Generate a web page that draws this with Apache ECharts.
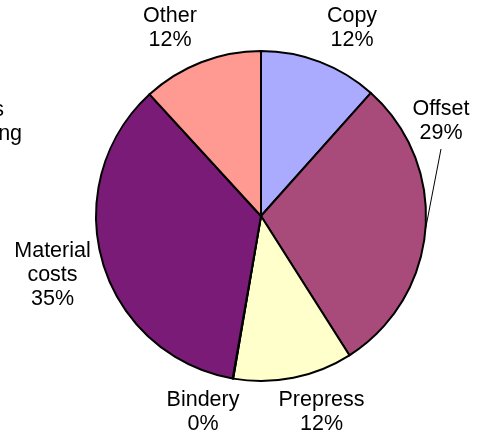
<!DOCTYPE html>
<html>
<head>
<meta charset="utf-8">
<script src="https://cdn.jsdelivr.net/npm/echarts@6/dist/echarts.min.js"></script>
<style>
html,body{margin:0;padding:0;background:#fff;}
#c{width:477px;height:441px;}
</style>
</head>
<body>
<div id="c"></div>
<script>
// ---- data ----
const categories = ['Copy', 'Offset', 'Prepress', 'Bindery', 'Material costs', 'Fees Shipping', 'Other'];
const labelNames = ['Copy', 'Offset', 'Prepress', 'Bindery', 'Material\ncosts', 'Fees\nShipping', 'Other'];
const values = [11.6, 29.4, 11.7, 0.05, 35.45, 0, 11.8];
const colors = ['#AAAAFF', '#A94B7A', '#FFFFCC', '#CCFFFF', '#7B1B78', '#660066', '#FF9A93'];

// ---- layout (label anchor positions, centre of label block) ----
const labelPos = [[352, 28], [441, 121], [321.5, 412.5], [203, 412.5], [52.5, 275], [-19.8, 134], [170, 28]];
const leaderIndex = 1;
const leaderTopOffset = 28;
const CX = 261, CY = 216, R = 165;

const chart = echarts.init(document.getElementById('c'), null, {renderer: 'canvas'});

const total = values.reduce((a, b) => a + b, 0);
function arcMid(i) {
  let before = 0;
  for (let k = 0; k < i; k++) before += values[k];
  const a = (before + values[i] / 2) / total * Math.PI * 2; // clockwise from 12 o'clock
  return [CX + R * Math.sin(a), CY - R * Math.cos(a)];
}

const data = categories.map((name, i) => ({
  name: name,
  value: values[i],
  itemStyle: {color: colors[i]},
  labelLine: {show: i === leaderIndex}
}));

chart.setOption({
  animation: false,
  backgroundColor: '#ffffff',
  series: [{
    type: 'pie',
    center: [CX, CY],
    radius: R,
    startAngle: 90,
    clockwise: true,
    avoidLabelOverlap: false,
    silent: true,
    itemStyle: {borderColor: '#000', borderWidth: 2},
    emphasis: {disabled: true},
    label: {
      show: true,
      position: 'outside',
      color: '#000',
      fontFamily: 'Liberation Sans, Arial, sans-serif',
      fontSize: 21.5,
      lineHeight: 24,
      align: 'center',
      formatter: function (p) {
        return labelNames[p.dataIndex] + '\n' + Math.round(p.percent) + '%';
      }
    },
    labelLine: {show: false, length: 10, length2: 10, lineStyle: {color: '#000', width: 1}},
    labelLayout: function (params) {
      const p = labelPos[params.dataIndex];
      const out = {x: p[0], y: p[1], align: 'center', verticalAlign: 'middle'};
      if (params.dataIndex === leaderIndex) {
        const start = arcMid(leaderIndex);
        out.labelLinePoints = [start, [p[0], p[1] + leaderTopOffset]];
      }
      return out;
    },
    data: data
  }]
});
</script>
</body>
</html>
